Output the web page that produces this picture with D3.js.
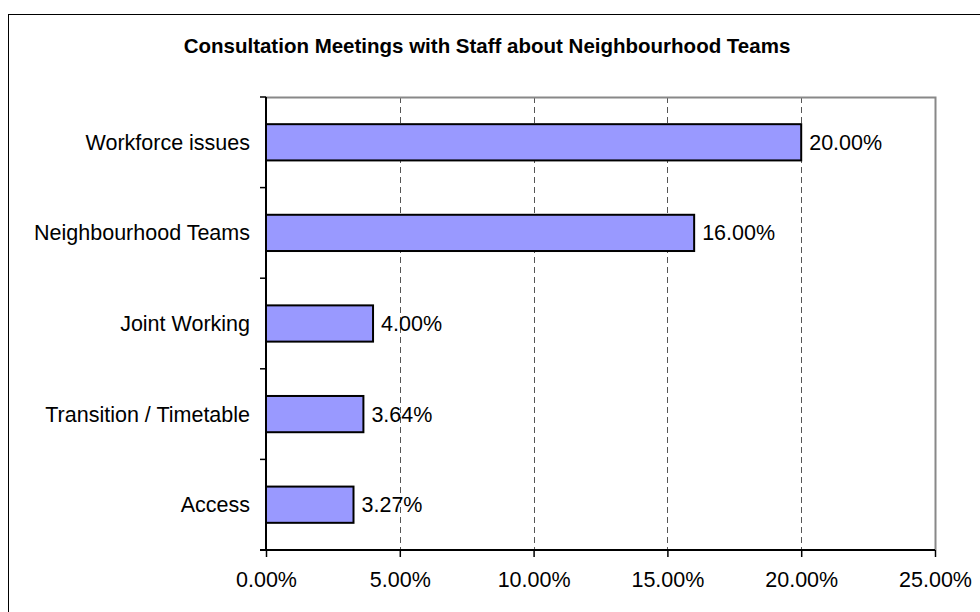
<!DOCTYPE html>
<html>
<head>
<meta charset="utf-8" />
<title>Consultation Meetings</title>
<style>
body { margin: 0; background: #fff; }
svg { display: block; font-family: "Liberation Sans", Arial, sans-serif; }
</style>
</head>
<body>
<svg id="chart" width="980" height="612"></svg>
<script src="https://d3js.org/d3.v7.min.js"></script>
<script>
var categories = ["Workforce issues", "Neighbourhood Teams", "Joint Working", "Transition / Timetable", "Access"];
var values = [20.00, 16.00, 4.00, 3.64, 3.27];
var xTicks = [0, 5, 10, 15, 20, 25];
var title = "Consultation Meetings with Staff about Neighbourhood Teams";

var svg = d3.select("#chart");
var plotL = 266, plotR = 935, plotT = 97, plotB = 550;
var fs = 21.5;

// outer chart border
svg.append("rect")
  .attr("x", 8.5).attr("y", 14.5)
  .attr("width", 980).attr("height", 620)
  .attr("fill", "none").attr("stroke", "#000").attr("stroke-width", 1);

svg.append("text")
  .attr("x", 487).attr("y", 53)
  .attr("text-anchor", "middle")
  .attr("font-size", 20.5).attr("font-weight", "bold")
  .text(title);

var x = d3.scaleLinear().domain([0, 25]).range([plotL, plotR]);
var y = d3.scaleBand().domain(categories).range([plotT, plotB]).paddingInner(0.6).paddingOuter(0.3);
var yEdges = d3.scaleLinear().domain([0, categories.length]).range([plotT, plotB]);

// gridlines
svg.append("g").selectAll("line")
  .data(xTicks.filter(function(d) { return d > 0 && d < 25; }))
  .enter().append("line")
  .attr("x1", function(d) { return Math.round(x(d)) + 0.5; })
  .attr("x2", function(d) { return Math.round(x(d)) + 0.5; })
  .attr("y1", plotT).attr("y2", plotB)
  .attr("stroke", "#555").attr("stroke-dasharray", "6,4");

// plot area border (top and right, grey)
svg.append("path")
  .attr("d", "M" + plotL + "," + (plotT + 0.5) + "H" + (plotR + 0.5) + "V" + plotB)
  .attr("fill", "none").attr("stroke", "#888").attr("stroke-width", 2);

// bars
svg.append("g").selectAll("rect")
  .data(values)
  .enter().append("rect")
  .attr("x", x(0))
  .attr("y", function(d, i) { return y(categories[i]); })
  .attr("width", function(d) { return x(d) - x(0); })
  .attr("height", y.bandwidth())
  .attr("fill", "#9999FF").attr("stroke", "#000").attr("stroke-width", 2);

// value labels
svg.append("g").selectAll("text")
  .data(values)
  .enter().append("text")
  .attr("x", function(d) { return x(d) + 8; })
  .attr("y", function(d, i) { return y(categories[i]) + y.bandwidth() / 2; })
  .attr("dy", "0.35em")
  .attr("font-size", fs)
  .text(function(d) { return d.toFixed(2) + "%"; });

// x axis
var xAxis = d3.axisBottom(x).tickValues(xTicks).tickSize(7).tickPadding(15)
  .tickFormat(function(d) { return d.toFixed(2) + "%"; });
var gx = svg.append("g").attr("transform", "translate(0," + plotB + ")").call(xAxis);
gx.select(".domain").attr("stroke", "#000").attr("stroke-width", 2).attr("d", "M" + (plotL - 6) + ",0H" + plotR);
gx.selectAll(".tick line").attr("stroke", "#000").attr("stroke-width", 1.5);
gx.selectAll("text").attr("font-size", fs).attr("fill", "#000").attr("font-family", "Liberation Sans, Arial, sans-serif");

// y axis line and ticks at band edges
svg.append("line")
  .attr("x1", plotL).attr("x2", plotL).attr("y1", plotT).attr("y2", plotB)
  .attr("stroke", "#000").attr("stroke-width", 2);
svg.append("g").selectAll("line")
  .data(d3.range(categories.length))
  .enter().append("line")
  .attr("x1", plotL - 6).attr("x2", plotL)
  .attr("y1", function(d) { return yEdges(d); })
  .attr("y2", function(d) { return yEdges(d); })
  .attr("stroke", "#000").attr("stroke-width", 1.5);

// category labels
svg.append("g").selectAll("text")
  .data(categories)
  .enter().append("text")
  .attr("x", 250)
  .attr("y", function(d) { return y(d) + y.bandwidth() / 2; })
  .attr("dy", "0.35em")
  .attr("text-anchor", "end")
  .attr("font-size", fs)
  .text(function(d) { return d; });
</script>
</body>
</html>
